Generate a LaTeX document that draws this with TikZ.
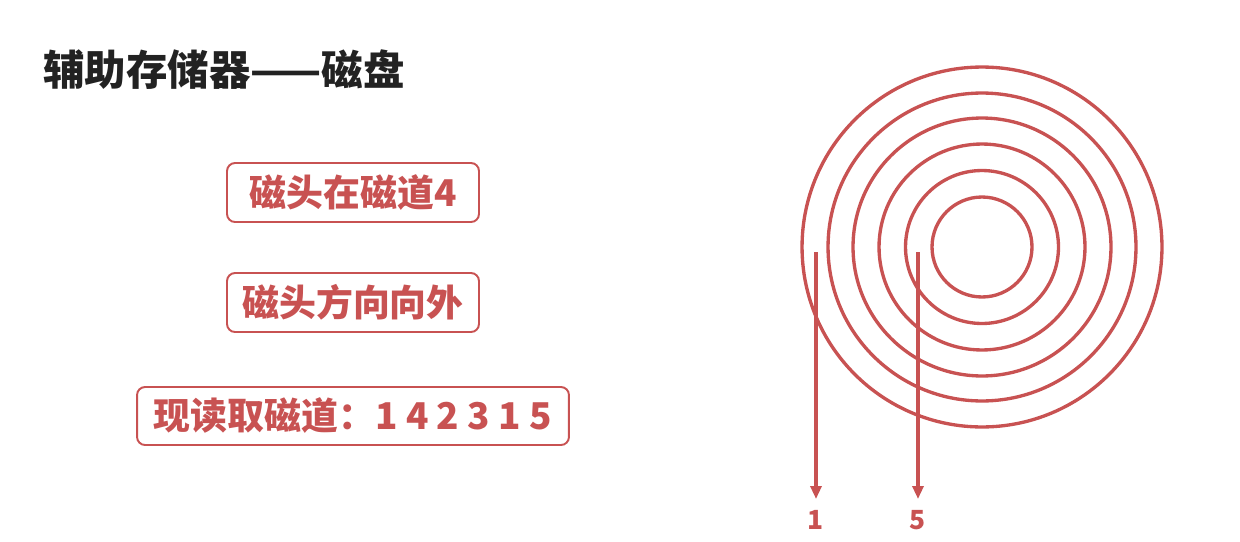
\documentclass[tikz,border=0pt]{standalone}
\usepackage{fontspec}
\newfontfamily\cjk{Noto Sans CJK SC}
\usepackage{tikz}
\usetikzlibrary{arrows.meta,positioning}

\definecolor{diskred}{RGB}{200,82,82}
\definecolor{titlegray}{RGB}{34,34,34}

\tikzset{
    infobox/.style={draw=diskred, line width=1.1pt, rounded corners=0.16cm,
        text=diskred, font=\cjk\bfseries\fontsize{21pt}{25pt}\selectfont,
        minimum width=5.04cm, minimum height=1.18cm, inner sep=0pt},
    track/.style={draw=diskred, line width=1.9pt},
    headline/.style={draw=diskred, line width=1.8pt, -{Triangle[length=0.26cm,width=0.22cm]}},
    tracklabel/.style={text=diskred, font=\cjk\bfseries\fontsize{15pt}{17pt}\selectfont, inner sep=0pt}
}

\begin{document}
\begin{tikzpicture}[x=0.02cm,y=-0.02cm]
        \useasboundingbox (0,0) rectangle (1240,541);

        % Title
        \node[anchor=west, inner sep=0pt, text=titlegray,
              font=\cjk\bfseries\fontsize{23.6pt}{28pt}\selectfont] (title) at (43,70) {辅助存储器——磁盘};

        % Left side boxes
        \node[infobox] (curTrack) at (353,192.5) {磁头在磁道4};
        \node[infobox] (headDir) at (353,302.5) {磁头方向向外};
        \node[infobox, minimum width=8.64cm, minimum height=1.16cm] (readSeq) at (353,416) {现读取磁道：1 4 2 3 1 5};

        % Disk tracks
        \coordinate (disk) at (982,247);
        \foreach \r in {3.6,3.08,2.58,2.06,1.53,1.0}
            \draw[track] (disk) circle[radius=\r cm];

        % Head arrows
        \coordinate (outTop) at (816,252);
        \coordinate (outEnd) at (816,499);
        \coordinate (inTop) at (918,252);
        \coordinate (inEnd) at (918,499);
        \draw[headline] (outTop) -- (outEnd);
        \draw[headline] (inTop) -- (inEnd);

        % Track labels
        \node[tracklabel] (lbl1) at (816,520) {1};
        \node[tracklabel] (lbl5) at (918,520) {5};
    \end{tikzpicture}
\end{document}
